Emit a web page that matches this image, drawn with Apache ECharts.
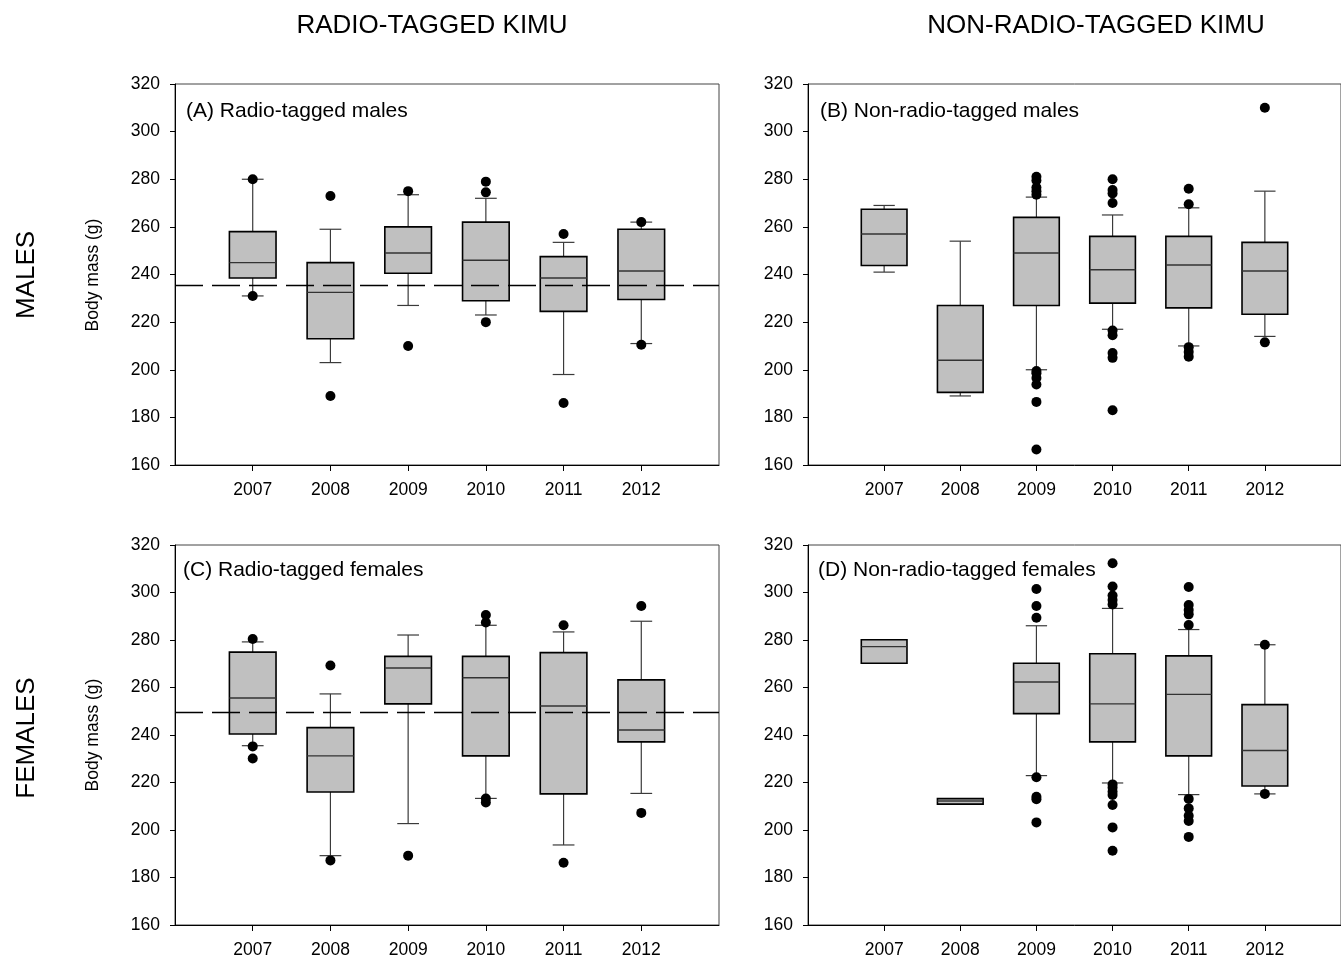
<!DOCTYPE html>
<html>
<head>
<meta charset="utf-8">
<script src="https://cdn.jsdelivr.net/npm/echarts@6/dist/echarts.min.js"></script>
<style>
  html, body { margin: 0; padding: 0; background: #fff; }
  #chart { width: 1341px; height: 961px; }
</style>
</head>
<body>
<div id="chart"></div>
<script>
const years = [2007, 2008, 2009, 2010, 2011, 2012]
const yTicks = [160, 180, 200, 220, 240, 260, 280, 300, 320]

// boxes: [low whisker, Q1, median, Q3, high whisker] per year
const boxesA = [
  [231, 238.5, 245, 258, 280],
  [203, 213, 232.5, 245, 259],
  [227, 240.5, 249, 260, 273.5],
  [223, 229, 246, 262, 272],
  [198, 224.5, 238.5, 247.5, 253.5],
  [211, 229.5, 241.5, 259, 262]
]
const outA = [
  [2007, 280], [2007, 231],
  [2008, 273], [2008, 189],
  [2009, 275], [2009, 210],
  [2010, 279], [2010, 274.5], [2010, 220],
  [2011, 257], [2011, 186],
  [2012, 262], [2012, 210.5]
]

const boxesB = [
  [241, 243.8, 257, 267.4, 269],
  [189, 190.5, 204, 227, 254],
  [200, 227, 249, 264, 272.5],
  [217, 228, 242, 256, 265],
  [210, 226, 244, 256, 268],
  [214, 223.3, 241.5, 253.5, 275]
]
const outB = [
  [2009, 281], [2009, 279.5], [2009, 276.5], [2009, 275], [2009, 273.5],
  [2009, 199.5], [2009, 198.5], [2009, 196.5], [2009, 193.8], [2009, 186.5], [2009, 166.5],
  [2010, 280], [2010, 275.5], [2010, 274], [2010, 270],
  [2010, 216.5], [2010, 214.5], [2010, 207], [2010, 205], [2010, 183],
  [2011, 276], [2011, 269.5], [2011, 209.5], [2011, 207.5], [2011, 205.5],
  [2012, 310], [2012, 211.5]
]

const boxesC = [
  [235.5, 240.4, 255.6, 274.9, 279.2],
  [189.2, 216, 231.2, 243.1, 257.3],
  [202.7, 253.1, 268.2, 273.1, 282.1],
  [213.3, 231.2, 264.1, 273.1, 286.2],
  [193.7, 215.2, 252.2, 274.7, 283.4],
  [215.4, 237.1, 242.1, 263.2, 287.9]
]
const outC = [
  [2007, 280.4], [2007, 235.2], [2007, 230.1],
  [2008, 269.3], [2008, 187.2],
  [2009, 189.2],
  [2010, 290.5], [2010, 287.4], [2010, 213.3], [2010, 211.6],
  [2011, 286.2], [2011, 186.2],
  [2012, 294.3], [2012, 207.2]
]

const boxesD = [
  [270.2, 270.2, 277.2, 280.1, 280.1],
  [210.9, 210.9, 212.2, 213.2, 213.2],
  [222.9, 249, 262.3, 270.2, 286],
  [219.8, 237.1, 253.1, 274.2, 293.3],
  [214.9, 231.2, 257.1, 273.3, 284.4],
  [215.2, 218.5, 233.5, 252.8, 278]
]
const outD = [
  [2009, 301.5], [2009, 294.3], [2009, 289.4],
  [2009, 222.2], [2009, 214], [2009, 213], [2009, 203.2],
  [2010, 312.3], [2010, 302.5], [2010, 298.7], [2010, 296.8], [2010, 295],
  [2010, 219.2], [2010, 217.8], [2010, 216.1], [2010, 214.7], [2010, 210.5], [2010, 201.1], [2010, 191.3],
  [2011, 302.3], [2011, 294.7], [2011, 292.6], [2011, 290.8], [2011, 286.3],
  [2011, 213.1], [2011, 209.1], [2011, 206], [2011, 203.8], [2011, 197.1],
  [2012, 278], [2012, 215.2]
]

// overall means drawn as dashed reference lines
const meanA = 235.5
const meanC = 249.4

const FONT = 'Liberation Sans, Arial, sans-serif'

function renderBox(params, api) {
  const x = api.value(0)
  const lo = api.coord([x, api.value(1)])
  const q1 = api.coord([x, api.value(2)])
  const md = api.coord([x, api.value(3)])
  const q3 = api.coord([x, api.value(4)])
  const hi = api.coord([x, api.value(5)])
  const bw = api.size([0.6, 0])[0]
  const cw = api.size([0.28, 0])[0]
  const cx = lo[0]
  const wStyle = { stroke: '#3a3a3a', lineWidth: 1.2 }
  return {
    type: 'group',
    children: [
      { type: 'line', shape: { x1: cx, y1: lo[1], x2: cx, y2: q1[1] }, style: wStyle },
      { type: 'line', shape: { x1: cx, y1: q3[1], x2: cx, y2: hi[1] }, style: wStyle },
      { type: 'line', shape: { x1: cx - cw / 2, y1: lo[1], x2: cx + cw / 2, y2: lo[1] }, style: wStyle },
      { type: 'line', shape: { x1: cx - cw / 2, y1: hi[1], x2: cx + cw / 2, y2: hi[1] }, style: wStyle },
      { type: 'rect', shape: { x: cx - bw / 2, y: q3[1], width: bw, height: q1[1] - q3[1] },
        style: { fill: '#c0c0c0', stroke: '#000', lineWidth: 1.6 } },
      { type: 'line', shape: { x1: cx - bw / 2, y1: md[1], x2: cx + bw / 2, y2: md[1] },
        style: { stroke: '#333', lineWidth: 1.4 } }
    ]
  }
}

const grids = [
  { left: 175, top: 84, width: 544, height: 381 },
  { left: 808, top: 84, width: 544, height: 381 },
  { left: 175, top: 545, width: 544, height: 380 },
  { left: 808, top: 545, width: 544, height: 380 }
].map(g => ({ ...g, show: true, borderColor: '#444', borderWidth: 1, backgroundColor: 'transparent' }))

const xAxes = grids.map((g, i) => ({
  type: 'value', gridIndex: i, min: 2006, max: 2013, interval: 1,
  axisLine: { lineStyle: { color: '#000', width: 1 } },
  axisTick: { show: true, length: 6, customValues: years, lineStyle: { color: '#000' } },
  axisLabel: { customValues: years, formatter: v => String(v), color: '#000', fontSize: 17.5, fontFamily: FONT, margin: 16 },
  splitLine: { show: false }
}))

const yAxes = grids.map((g, i) => ({
  type: 'value', gridIndex: i, min: 160, max: 320, interval: 20,
  axisLine: { show: true, lineStyle: { color: '#000', width: 1 } },
  axisTick: { show: true, length: 5, lineStyle: { color: '#000' } },
  axisLabel: { color: '#000', fontSize: 17.5, fontFamily: FONT, margin: 15 },
  splitLine: { show: false }
}))

const panels = [boxesA, boxesB, boxesC, boxesD]
const outs = [outA, outB, outC, outD]

const series = []
panels.forEach((boxes, i) => {
  series.push({
    type: 'custom', xAxisIndex: i, yAxisIndex: i,
    renderItem: renderBox,
    encode: { x: 0, y: [1, 2, 3, 4, 5] },
    data: boxes.map((b, k) => [years[k], ...b]),
    z: 2,
    markLine: i === 0 || i === 2 ? {
      silent: true, symbol: 'none', label: { show: false },
      lineStyle: { color: '#000', width: 1.3, type: [28, 9], opacity: 1 },
      data: [{ yAxis: i === 0 ? meanA : meanC }]
    } : undefined
  })
  series.push({
    type: 'scatter', xAxisIndex: i, yAxisIndex: i,
    symbol: 'circle', symbolSize: 10,
    itemStyle: { color: '#000', opacity: 1 },
    data: outs[i], z: 3
  })
})

const txt = (text, x, y, size, rot, align) => ({
  type: 'text', x, y, rotation: rot || 0,
  style: { text, fill: '#000', font: size + 'px ' + FONT, textAlign: align || 'center', textVerticalAlign: 'middle' }
})

const chart = echarts.init(document.getElementById('chart'))
chart.setOption({
  animation: false,
  grid: grids,
  xAxis: xAxes,
  yAxis: yAxes,
  series,
  graphic: [
    txt('RADIO-TAGGED KIMU', 432, 26, 26),
    txt('NON-RADIO-TAGGED KIMU', 1096, 26, 26),
    txt('MALES', 27, 275, 26, Math.PI / 2),
    txt('FEMALES', 27, 738, 26, Math.PI / 2),
    txt('Body mass (g)', 93, 275, 17.5, Math.PI / 2),
    txt('Body mass (g)', 93, 735, 17.5, Math.PI / 2),
    txt('(A) Radio-tagged males', 186, 111, 21, 0, 'left'),
    txt('(B) Non-radio-tagged males', 820, 111, 21, 0, 'left'),
    txt('(C) Radio-tagged females', 183, 570, 21, 0, 'left'),
    txt('(D) Non-radio-tagged females', 818, 570, 21, 0, 'left')
  ]
})
</script>
</body>
</html>
